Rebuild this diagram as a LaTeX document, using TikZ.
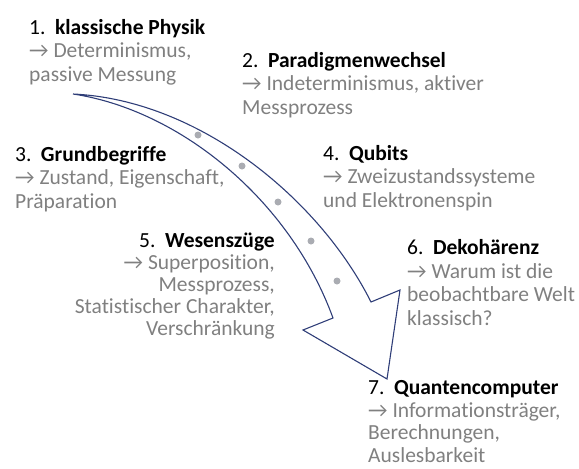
\documentclass[tikz,border=0pt]{standalone}
\usepackage{fontspec}
\setmainfont{Carlito}[Ligatures=NoCommon]
\usetikzlibrary{positioning}

\definecolor{pfeilblau}{RGB}{47,62,120}
\definecolor{textgrau}{RGB}{128,128,128}
\definecolor{punktgrau}{RGB}{170,172,178}

\newcommand{\titel}[2]{\textcolor{black}{\makebox[1.2em][l]{#1}\textbf{#2}}}
\newcommand{\folgt}{→\ }

\begin{document}
\begin{tikzpicture}[x=1pt, y=-1pt,
    stufe/.style={align=left, inner sep=0pt, anchor=base west, text=textgrau,
        font=\fontsize{21.5}{23.5}\selectfont}]
    \useasboundingbox (0,0) rectangle (579,469);

    % Pfeil als Umriss
    \draw[pfeilblau, line width=1.1pt, line join=miter]
        (73,94) .. controls (200,100) and (320,200) .. (371,302)
        -- (400,290) -- (387,379) -- (303,330) -- (333,318)
        .. controls (290,200) and (180,110) .. (73,94) -- cycle;

    % Punkte im Pfeil
    \foreach \p in {(198,135),(242,166),(278,202),(311,241),(337,281)}
        \fill[punktgrau] \p circle (3.5);

    % Stufen (Anker: Grundlinie der letzten Zeile)
    \node (klassisch) [stufe] at (29,81) {\titel{1.}{klassische Physik}\\\folgt Determinismus,\\passive Messung};
    \node (paradigma) [stufe] at (242,114) {\titel{2.}{Paradigmenwechsel}\\\folgt Indeterminismus, aktiver\\Messprozess};
    \node (grundbegriffe) [stufe] at (15,208) {\titel{3.}{Grundbegriffe}\\\folgt Zustand, Eigenschaft,\\Präparation};
    \node (qubits) [stufe] at (323,207) {\titel{4.}{Qubits}\\\folgt Zweizustandssysteme\\und Elektronenspin};
    \node (wesenszuege) [stufe, align=right, anchor=base east, font=\fontsize{21.5}{21.8}\selectfont] at (275,335) {\titel{5.}{Wesenszüge}\\\folgt Superposition,\\Messprozess,\\Statistischer Charakter,\\Verschränkung};
    \node (dekohaerenz) [stufe] at (407,325) {\titel{6.}{Dekohärenz}\\\folgt Warum ist die\\beobachtbare Welt\\klassisch?};
    \node (computer) [stufe, font=\fontsize{21.5}{22.5}\selectfont] at (368,462) {\titel{7.}{Quantencomputer}\\\folgt Informationsträger,\\Berechnungen,\\Auslesbarkeit};
\end{tikzpicture}
\end{document}
